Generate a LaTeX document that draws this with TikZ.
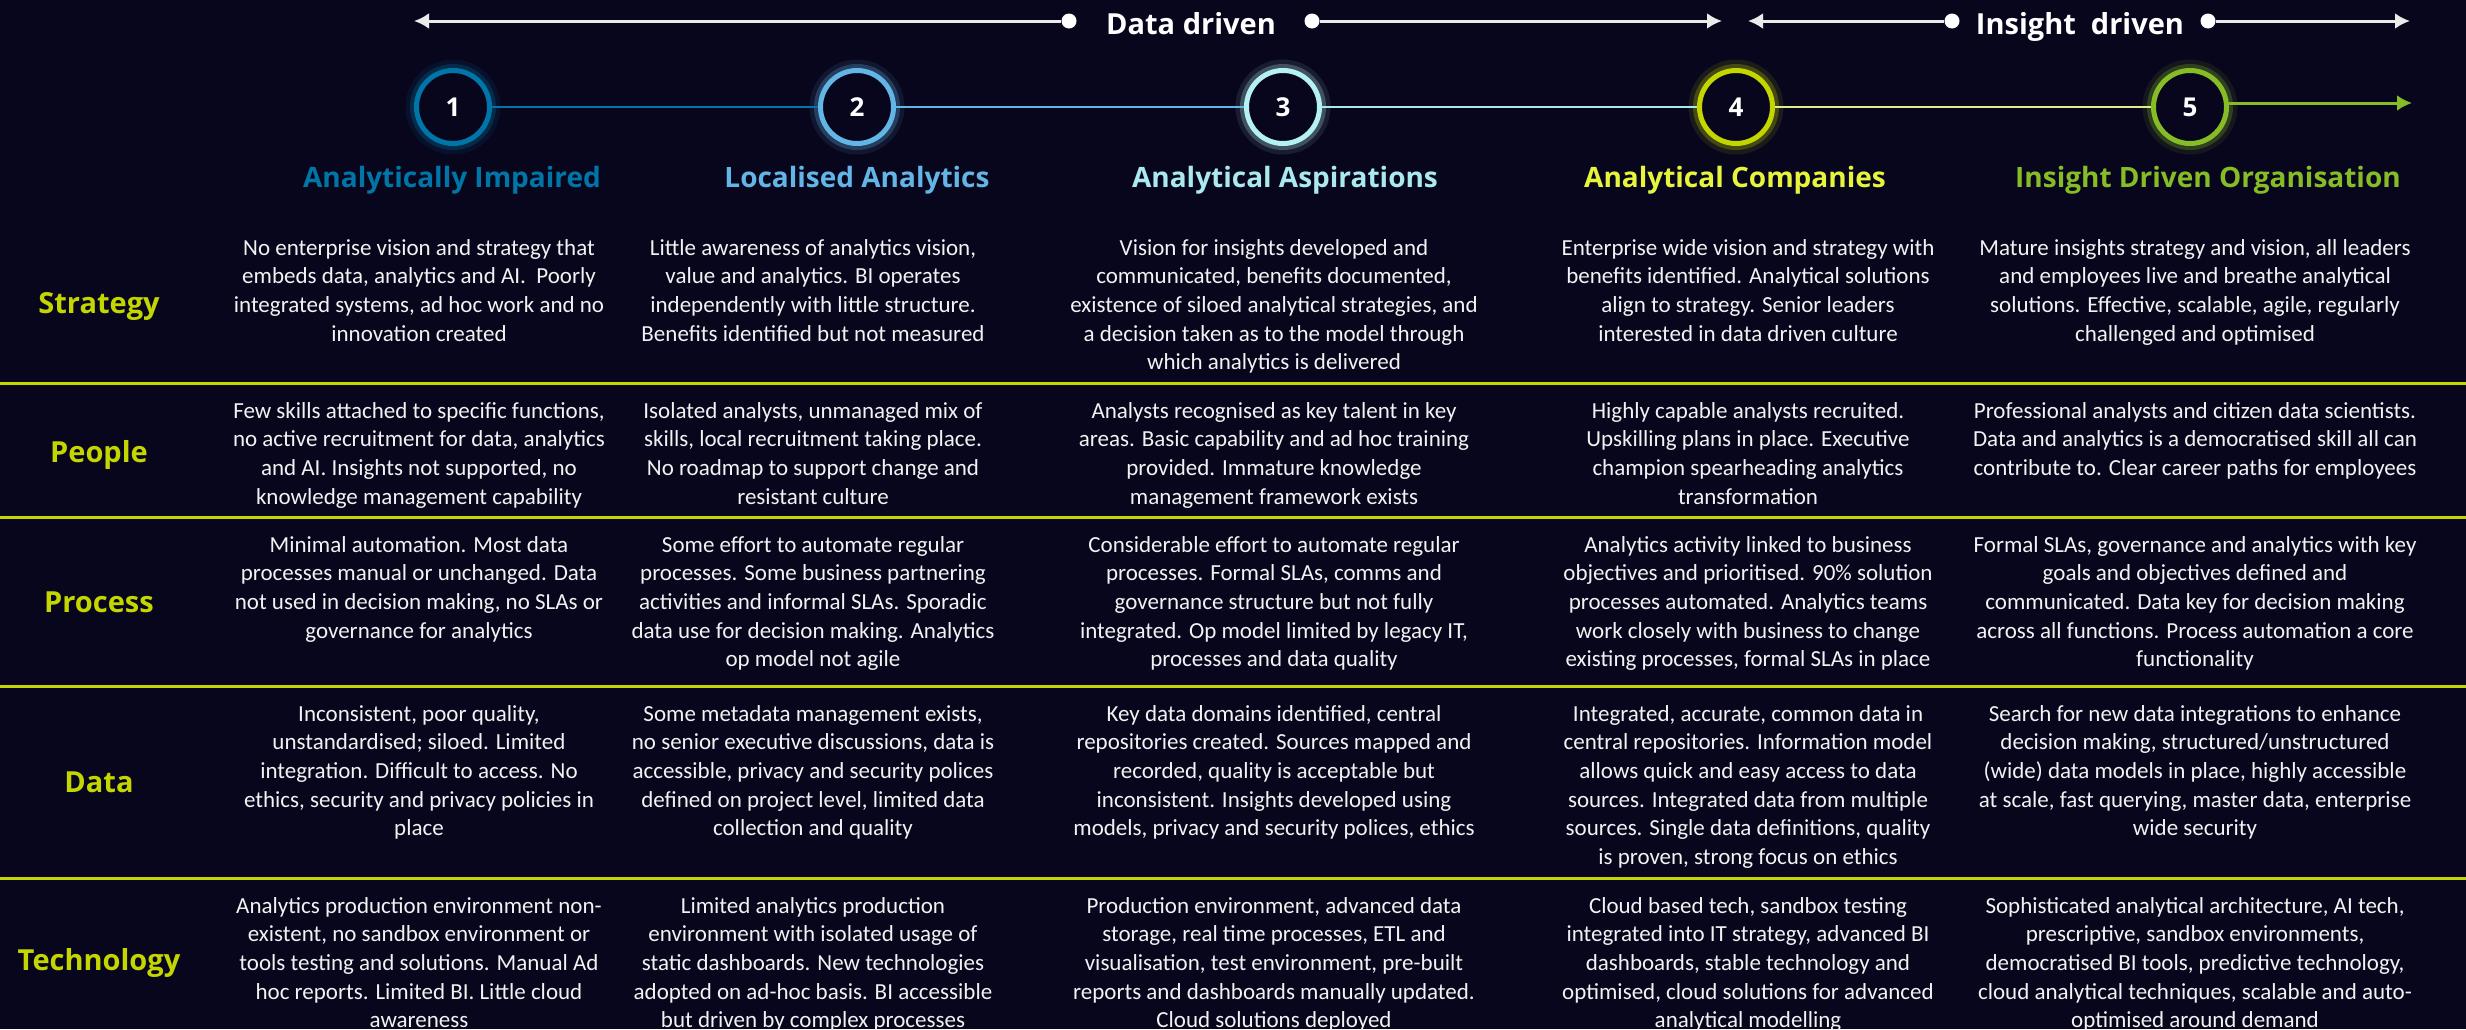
\documentclass[tikz,border=0pt]{standalone}
\usepackage{fontspec}
\usetikzlibrary{arrows.meta}
\newfontfamily\headfont{Open Sans}
\newfontfamily\bodyfont{Carlito}

\definecolor{bgnavy}{HTML}{08061D}
\definecolor{lvlone}{HTML}{0076A8}
\definecolor{lvltwo}{HTML}{62B5E5}
\definecolor{lvlthree}{HTML}{B4F0F4}
\definecolor{lvlfour}{HTML}{C4D600}
\definecolor{lvlfive}{HTML}{86BC25}
\definecolor{headthree}{HTML}{A9E9EF}
\definecolor{headfour}{HTML}{E6F53C}
\definecolor{linefour}{HTML}{E3EC86}
\definecolor{rowlime}{HTML}{C4D600}
\definecolor{bodytext}{HTML}{F2F2F2}

\tikzset{x=1pt, y=-1pt}
\tikzset{
  stage/.style={circle, draw=#1, line width=5pt, fill=bgnavy, minimum size=73pt,
    inner sep=0pt, text=white, font=\headfont\bfseries\fontsize{26}{30}\selectfont,
    preaction={draw=#1, line width=22pt, opacity=0.10},
    preaction={draw=#1, line width=13pt, opacity=0.25}},
  stagehead/.style={text=#1, font=\headfont\bfseries\fontsize{28}{32}\selectfont,
    anchor=base, inner sep=0pt},
  driver/.style={text=white, font=\headfont\bfseries\fontsize{29}{33}\selectfont,
    anchor=base, inner sep=0pt},
  dot/.style={circle, fill=white, minimum size=15pt, inner sep=0pt},
  topline/.style={draw=white!92!black, line width=3pt},
  link/.style={line width=2pt},
  rowlabel/.style={text=rowlime, font=\headfont\bfseries\fontsize{29}{33}\selectfont,
    anchor=base, inner sep=0pt},
  cell/.style={text=bodytext, font=\bodyfont\fontsize{23}{28.7}\selectfont,
    align=center, anchor=north, inner sep=0pt},
  sepline/.style={draw=rowlime, line width=3pt}
}

\begin{document}
\begin{tikzpicture}[>={Latex[length=15pt,width=16pt]}]
\fill[bgnavy] (0,0) rectangle (2466,1029);
\useasboundingbox (0,0) rectangle (2466,1029);

% top banner
\node[driver] (dd) at (1191,34) {Data driven};
\node[driver] (id) at (2080,34) {Insight\ \ driven};
\node[dot] (ddL) at (1069,21) {};
\node[dot] (ddR) at (1312,21) {};
\node[dot] (idL) at (1952,21) {};
\node[dot] (idR) at (2208,21) {};
\coordinate (ddTipL) at (414,21);
\coordinate (ddTipR) at (1722,21);
\coordinate (idTipL) at (1748,21);
\coordinate (idTipR) at (2410,21);
\draw[topline,->] (ddL) -- (ddTipL);
\draw[topline,->] (ddR) -- (ddTipR);
\draw[topline,->] (idL) -- (idTipL);
\draw[topline,->] (idR) -- (idTipR);

% maturity stages
\foreach \i/\x/\c in {1/453/lvlone, 2/857/lvltwo, 3/1283/lvlthree, 4/1736/lvlfour, 5/2190/lvlfive}
  \node[stage=\c] (s\i) at (\x,107) {\i};
\draw[link,lvlone] (s1) -- (s2);
\draw[link,lvltwo] (s2) -- (s3);
\draw[link,headthree] (s3) -- (s4);
\draw[link,linefour] (s4) -- (s5);
\coordinate (endTip) at (2412,103);
\draw[lvlfive,line width=3pt,->] (s5.east |- endTip) -- (endTip);

\node[stagehead=lvlone] (h1) at (452,187) {Analytically Impaired};
\node[stagehead=lvltwo] (h2) at (857,187) {Localised Analytics};
\node[stagehead=headthree] (h3) at (1285,187) {Analytical Aspirations};
\node[stagehead=headfour] (h4) at (1735,187) {Analytical Companies};
\node[stagehead=lvlfive] (h5) at (2208,187) {Insight Driven Organisation};

% row separators
\foreach \y in {383,517,686,878}
  \draw[sepline] (0,\y) -- (2466,\y);

% row labels
\node[rowlabel] (rStrategy) at (99,313) {Strategy};
\node[rowlabel] (rPeople) at (99,462) {People};
\node[rowlabel] (rProcess) at (99,612) {Process};
\node[rowlabel] (rData) at (99,792) {Data};
\node[rowlabel] (rTech) at (99,970) {Technology};

% strategy
\node[cell] (c11) at (419,239) {No enterprise vision and strategy that\\embeds data, analytics and AI.\ \ Poorly\\integrated systems, ad hoc work and no\\innovation created};
\node[cell] (c12) at (813,239) {Little awareness of analytics vision,\\value and analytics. BI operates\\independently with little structure.\\Benefits identified but not measured};
\node[cell] (c13) at (1274,239) {Vision for insights developed and\\communicated, benefits documented,\\existence of siloed analytical strategies, and\\a decision taken as to the model through\\which analytics is delivered};
\node[cell] (c14) at (1748,239) {Enterprise wide vision and strategy with\\benefits identified. Analytical solutions\\align to strategy. Senior leaders\\interested in data driven culture};
\node[cell] (c15) at (2195,239) {Mature insights strategy and vision, all leaders\\and employees live and breathe analytical\\solutions. Effective, scalable, agile, regularly\\challenged and optimised};

% people
\node[cell] (c21) at (419,402) {Few skills attached to specific functions,\\no active recruitment for data, analytics\\and AI. Insights not supported, no\\knowledge management capability};
\node[cell] (c22) at (813,402) {Isolated analysts, unmanaged mix of\\skills, local recruitment taking place.\\No roadmap to support change and\\resistant culture};
\node[cell] (c23) at (1274,402) {Analysts recognised as key talent in key\\areas. Basic capability and ad hoc training\\provided. Immature knowledge\\management framework exists};
\node[cell] (c24) at (1748,402) {Highly capable analysts recruited.\\Upskilling plans in place. Executive\\champion spearheading analytics\\transformation};
\node[cell] (c25) at (2195,402) {Professional analysts and citizen data scientists.\\Data and analytics is a democratised skill all can\\contribute to. Clear career paths for employees};

% process
\node[cell] (c31) at (419,536) {Minimal automation. Most data\\processes manual or unchanged. Data\\not used in decision making, no SLAs or\\governance for analytics};
\node[cell] (c32) at (813,536) {Some effort to automate regular\\processes. Some business partnering\\activities and informal SLAs. Sporadic\\data use for decision making. Analytics\\op model not agile};
\node[cell] (c33) at (1274,536) {Considerable effort to automate regular\\processes. Formal SLAs, comms and\\governance structure but not fully\\integrated. Op model limited by legacy IT,\\processes and data quality};
\node[cell] (c34) at (1748,536) {Analytics activity linked to business\\objectives and prioritised. 90\% solution\\processes automated. Analytics teams\\work closely with business to change\\existing processes, formal SLAs in place};
\node[cell] (c35) at (2195,536) {Formal SLAs, governance and analytics with key\\goals and objectives defined and\\communicated. Data key for decision making\\across all functions. Process automation a core\\functionality};

% data
\node[cell] (c41) at (419,705) {Inconsistent, poor quality,\\unstandardised; siloed. Limited\\integration. Difficult to access. No\\ethics, security and privacy policies in\\place};
\node[cell] (c42) at (813,705) {Some metadata management exists,\\no senior executive discussions, data is\\accessible, privacy and security polices\\defined on project level, limited data\\collection and quality};
\node[cell] (c43) at (1274,705) {Key data domains identified, central\\repositories created. Sources mapped and\\recorded, quality is acceptable but\\inconsistent. Insights developed using\\models, privacy and security polices, ethics};
\node[cell] (c44) at (1748,705) {Integrated, accurate, common data in\\central repositories. Information model\\allows quick and easy access to data\\sources. Integrated data from multiple\\sources. Single data definitions, quality\\is proven, strong focus on ethics};
\node[cell] (c45) at (2195,705) {Search for new data integrations to enhance\\decision making, structured/unstructured\\(wide) data models in place, highly accessible\\at scale, fast querying, master data, enterprise\\wide security};

% technology
\node[cell] (c51) at (419,897) {Analytics production environment non-\\existent, no sandbox environment or\\tools testing and solutions. Manual Ad\\hoc reports. Limited BI. Little cloud\\awareness};
\node[cell] (c52) at (813,897) {Limited analytics production\\environment with isolated usage of\\static dashboards. New technologies\\adopted on ad-hoc basis. BI accessible\\but driven by complex processes};
\node[cell] (c53) at (1274,897) {Production environment, advanced data\\storage, real time processes, ETL and\\visualisation, test environment, pre-built\\reports and dashboards manually updated.\\Cloud solutions deployed};
\node[cell] (c54) at (1748,897) {Cloud based tech, sandbox testing\\integrated into IT strategy, advanced BI\\dashboards, stable technology and\\optimised, cloud solutions for advanced\\analytical modelling};
\node[cell] (c55) at (2195,897) {Sophisticated analytical architecture, AI tech,\\prescriptive, sandbox environments,\\democratised BI tools, predictive technology,\\cloud analytical techniques, scalable and auto-\\optimised around demand};
\end{tikzpicture}
\end{document}
